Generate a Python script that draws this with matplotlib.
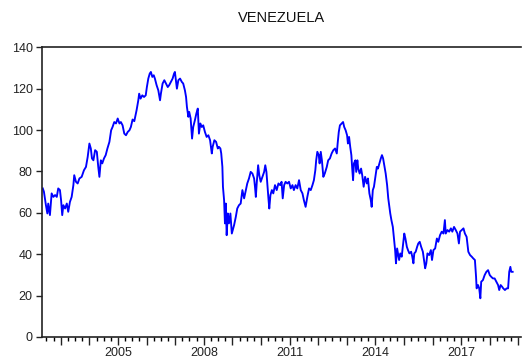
import matplotlib

matplotlib.use("Agg")

import matplotlib.pyplot as plt
from matplotlib.ticker import FixedLocator, FuncFormatter
import numpy as np

plt.rcParams["font.family"] = ["Liberation Sans", "DejaVu Sans"]

# series (decimal years, index level)
years = [
    2002.37, 2002.41, 2002.48, 2002.53, 2002.56, 2002.62, 2002.68, 2002.74, 2002.80, 2002.86,
    2002.91, 2002.97, 2003.01, 2003.05, 2003.09, 2003.15, 2003.21, 2003.26, 2003.32, 2003.38,
    2003.44, 2003.47, 2003.53, 2003.59, 2003.65, 2003.73, 2003.81, 2003.88, 2003.94, 2004.00,
    2004.05, 2004.09, 2004.14, 2004.20, 2004.26, 2004.31, 2004.35, 2004.40, 2004.45, 2004.51,
    2004.57, 2004.63, 2004.70, 2004.76, 2004.81, 2004.87, 2004.93, 2004.99, 2005.05, 2005.10,
    2005.16, 2005.22, 2005.28, 2005.34, 2005.40, 2005.45, 2005.51, 2005.57, 2005.65, 2005.71,
    2005.74, 2005.79, 2005.85, 2005.91, 2005.97, 2006.01, 2006.06, 2006.11, 2006.15, 2006.20,
    2006.25, 2006.29, 2006.35, 2006.41, 2006.47, 2006.50, 2006.56, 2006.62, 2006.68, 2006.74,
    2006.79, 2006.85, 2006.91, 2006.96, 2006.99, 2007.03, 2007.06, 2007.11, 2007.17, 2007.23,
    2007.28, 2007.34, 2007.38, 2007.41, 2007.46, 2007.49, 2007.54, 2007.59, 2007.63, 2007.69,
    2007.74, 2007.79, 2007.83, 2007.88, 2007.93, 2007.98, 2008.04, 2008.10, 2008.16, 2008.22,
    2008.28, 2008.31, 2008.37, 2008.43, 2008.49, 2008.53, 2008.58, 2008.61, 2008.65, 2008.67,
    2008.71, 2008.74, 2008.77, 2008.80, 2008.84, 2008.88, 2008.93, 2008.98, 2009.06, 2009.12,
    2009.17, 2009.23, 2009.29, 2009.35, 2009.41, 2009.47, 2009.52, 2009.58, 2009.64, 2009.70,
    2009.76, 2009.79, 2009.82, 2009.85, 2009.90, 2009.94, 2009.99, 2010.05, 2010.11, 2010.15,
    2010.19, 2010.22, 2010.26, 2010.29, 2010.33, 2010.38, 2010.43, 2010.49, 2010.55, 2010.61,
    2010.67, 2010.72, 2010.76, 2010.81, 2010.86, 2010.92, 2010.98, 2011.04, 2011.10, 2011.15,
    2011.21, 2011.27, 2011.33, 2011.39, 2011.45, 2011.50, 2011.56, 2011.62, 2011.68, 2011.74,
    2011.80, 2011.85, 2011.90, 2011.93, 2011.97, 2012.02, 2012.05, 2012.09, 2012.13, 2012.18,
    2012.23, 2012.30, 2012.35, 2012.41, 2012.47, 2012.53, 2012.59, 2012.65, 2012.68, 2012.72,
    2012.76, 2012.82, 2012.87, 2012.91, 2012.96, 2013.01, 2013.04, 2013.08, 2013.12, 2013.16,
    2013.19, 2013.22, 2013.25, 2013.30, 2013.33, 2013.37, 2013.40, 2013.45, 2013.50, 2013.54,
    2013.59, 2013.64, 2013.70, 2013.74, 2013.79, 2013.84, 2013.87, 2013.91, 2013.95, 2014.00,
    2014.05, 2014.09, 2014.14, 2014.19, 2014.23, 2014.27, 2014.31, 2014.36, 2014.41, 2014.45,
    2014.49, 2014.52, 2014.56, 2014.61, 2014.65, 2014.69, 2014.72, 2014.76, 2014.79, 2014.83,
    2014.87, 2014.92, 2014.97, 2015.01, 2015.05, 2015.10, 2015.14, 2015.19, 2015.25, 2015.29,
    2015.33, 2015.36, 2015.41, 2015.46, 2015.50, 2015.55, 2015.60, 2015.66, 2015.70, 2015.74,
    2015.78, 2015.82, 2015.88, 2015.94, 2015.98, 2016.03, 2016.09, 2016.15, 2016.20, 2016.26,
    2016.32, 2016.38, 2016.43, 2016.46, 2016.52, 2016.58, 2016.64, 2016.69, 2016.75, 2016.81,
    2016.87, 2016.92, 2016.96, 2017.02, 2017.08, 2017.13, 2017.19, 2017.25, 2017.31, 2017.37,
    2017.42, 2017.48, 2017.52, 2017.54, 2017.59, 2017.63, 2017.67, 2017.70, 2017.76, 2017.82,
    2017.88, 2017.94, 2018.00, 2018.05, 2018.11, 2018.17, 2018.23, 2018.29, 2018.33, 2018.38,
    2018.43, 2018.47, 2018.53, 2018.59, 2018.64, 2018.68, 2018.72, 2018.75, 2018.80,
]
values = [
    71.8, 70.2, 63.7, 59.7, 64.5, 58.9, 69.4, 67.7, 68.6, 67.7,
    71.8, 71.0, 66.1, 58.9, 63.7, 62.1, 64.5, 60.5, 65.3, 67.7,
    73.4, 78.2, 75.0, 74.2, 76.6, 77.4, 80.6, 82.2, 87.0, 93.5,
    91.1, 86.3, 85.4, 90.3, 89.5, 82.2, 77.4, 85.4, 83.9, 86.3,
    87.9, 91.1, 94.3, 99.9, 101.5, 103.9, 103.2, 105.6, 103.2, 103.9,
    102.3, 98.3, 97.5, 99.1, 99.9, 101.5, 105.1, 104.3, 109.6, 114.4,
    117.6, 115.2, 116.8, 116.0, 116.8, 120.8, 124.9, 127.3, 128.1, 125.7,
    126.5, 124.9, 121.7, 119.2, 114.4, 117.6, 122.5, 124.1, 122.5, 120.8,
    121.7, 123.3, 124.9, 127.3, 128.1, 123.3, 120.0, 124.1, 124.9, 123.3,
    122.5, 119.2, 116.0, 111.2, 106.4, 108.8, 105.6, 95.9, 101.5, 104.8,
    108.0, 110.4, 98.3, 103.2, 101.5, 102.3, 99.1, 96.7, 97.5, 95.1,
    88.7, 91.9, 95.1, 94.3, 91.1, 91.9, 91.1, 88.7, 82.2, 72.6,
    66.1, 54.9, 64.5, 49.2, 59.7, 54.9, 59.7, 50.0, 54.1, 58.1,
    62.1, 63.7, 64.5, 71.0, 67.0, 71.0, 74.2, 76.6, 79.8, 79.0,
    76.6, 72.6, 67.7, 74.2, 83.0, 78.2, 75.0, 77.4, 79.8, 83.0,
    79.8, 74.2, 67.0, 62.1, 68.6, 71.0, 69.4, 73.4, 71.0, 74.2,
    73.4, 75.0, 67.0, 73.4, 75.0, 74.2, 75.0, 71.8, 73.4, 71.0,
    73.4, 71.8, 75.8, 71.0, 69.4, 66.1, 62.9, 67.7, 71.8, 71.0,
    73.4, 75.8, 80.6, 85.4, 89.5, 87.9, 83.9, 89.5, 85.4, 77.4,
    79.0, 82.2, 85.4, 86.3, 88.7, 90.3, 91.1, 88.7, 93.5, 99.1,
    102.3, 103.2, 103.9, 101.5, 99.9, 97.5, 93.5, 96.7, 91.9, 87.9,
    81.4, 75.8, 83.9, 85.4, 79.8, 85.4, 81.4, 79.0, 81.4, 78.2,
    72.6, 77.4, 74.2, 76.6, 69.4, 66.1, 62.9, 71.0, 72.6, 77.4,
    82.2, 81.4, 83.9, 86.3, 87.9, 86.3, 83.0, 79.0, 73.4, 67.0,
    62.9, 59.7, 56.5, 53.2, 47.6, 42.0, 35.6, 42.8, 40.4, 37.2,
    40.4, 38.8, 45.2, 50.0, 47.6, 43.6, 42.0, 40.4, 41.2, 38.8,
    35.6, 40.4, 41.2, 43.6, 45.2, 46.0, 43.6, 41.2, 37.2, 33.2,
    35.6, 40.4, 39.6, 42.0, 37.2, 42.0, 42.8, 47.6, 46.0, 49.2,
    50.9, 50.0, 56.5, 50.0, 51.7, 50.9, 52.5, 50.9, 53.2, 51.7,
    50.0, 45.2, 50.9, 51.7, 52.5, 50.0, 48.4, 41.2, 39.6, 38.8,
    38.0, 37.2, 29.1, 23.5, 25.1, 23.5, 18.7, 26.7, 27.5, 29.9,
    31.5, 32.3, 29.9, 29.1, 28.3, 28.3, 26.7, 25.1, 22.7, 25.1,
    24.3, 23.5, 22.7, 23.5, 23.5, 31.5, 33.9, 31.5, 31.5,
]

y_ticks = [0, 20, 40, 60, 80, 100, 120, 140]
labelled_years = [2005, 2008, 2011, 2014, 2017]

fig = plt.figure(figsize=(5.22, 3.64), dpi=100)
ax = fig.add_axes([0.0814, 0.0742, 0.9166, 0.7958])

ax.plot(years, values, color="#0000ff", lw=1.35)

ax.set_xlim(2002.36, 2019.09)
ax.set_ylim(0, 140)
ax.set_yticks(y_ticks)

ax.xaxis.set_major_locator(FixedLocator(np.arange(2003, 2020)))
ax.xaxis.set_minor_locator(FixedLocator(np.arange(2002.5, 2019.1, 0.25)))
ax.xaxis.set_major_formatter(
    FuncFormatter(lambda v, p: str(int(round(v))) if int(round(v)) in labelled_years else "")
)

ax.tick_params(axis="x", which="major", length=5.5, width=1.0, direction="out", pad=2,
               labelsize=9, colors="#222222")
ax.tick_params(axis="x", which="minor", length=3, width=1.0, direction="out")
ax.tick_params(axis="y", which="major", length=4.5, width=1.0, direction="out", pad=2.5,
               labelsize=9, colors="#222222")

for side in ["left", "bottom", "top"]:
    ax.spines[side].set_color("#222222")
    ax.spines[side].set_linewidth(1.2)
ax.spines["right"].set_visible(False)

ax.set_title("VENEZUELA", fontsize=10.5, color="#111111", pad=18.5)

fig.savefig("out.png", dpi=100)
